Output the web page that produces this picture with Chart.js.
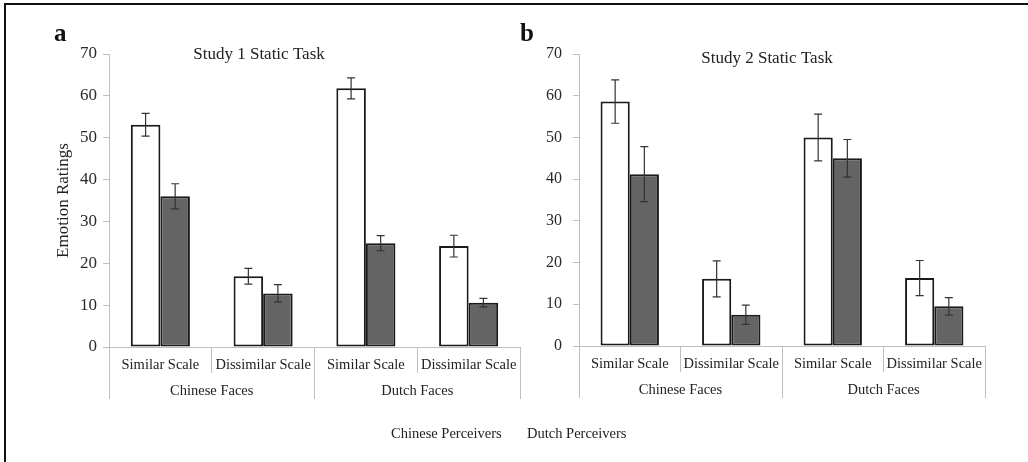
<!DOCTYPE html>
<html>
<head>
<meta charset="utf-8">
<script src="https://cdn.jsdelivr.net/npm/chart.js@4.4.1/dist/chart.umd.min.js"></script>
<style>
  html, body { margin: 0; padding: 0; background: #fff; }
  #page { position: relative; width: 1028px; height: 462px; overflow: hidden; font-family: "Liberation Serif", "Times New Roman", serif; }
  #frame { position: absolute; left: 4px; top: 3px; width: 1030px; height: 470px; border-top: 2px solid #111; border-left: 2px solid #111; }
  #chartA { position: absolute; left: 0; top: 0; }
  #chartB { position: absolute; left: 515px; top: 0; }
  .legend-item { position: absolute; top: 425px; font-size: 14.5px; color: #222; white-space: nowrap; }
</style>
</head>
<body>
<div id="page">
  <div id="frame"></div>
  <canvas id="chartA" width="525" height="462"></canvas>
  <canvas id="chartB" width="513" height="462"></canvas>
  <span class="legend-item" style="left:391px">Chinese Perceivers</span>
  <span class="legend-item" style="left:527px">Dutch Perceivers</span>
</div>
<script>
const subLabels = ["Similar Scale", "Dissimilar Scale", "Similar Scale", "Dissimilar Scale"];
const groupLabels = ["Chinese Faces", "Dutch Faces"];
const seriesNames = ["Chinese Perceivers", "Dutch Perceivers"];
const yTicks = [0, 10, 20, 30, 40, 50, 60, 70];

// Study 1
const study1Chinese = [53.1, 16.9, 61.8, 24.1];
const study1ChineseErr = [2.7, 1.9, 2.5, 2.6];
const study1Dutch = [36.0, 12.8, 24.8, 10.6];
const study1DutchErr = [3.0, 2.1, 1.8, 1.0];

// Study 2
const study2Chinese = [58.6, 16.1, 50.0, 16.3];
const study2ChineseErr = [5.2, 4.3, 5.6, 4.2];
const study2Dutch = [41.2, 7.5, 45.0, 9.5];
const study2DutchErr = [6.6, 2.3, 4.5, 2.1];

const axisGrey = "#bfbfbf";
const textColor = "#222";
const serif = "'Liberation Serif', 'Times New Roman', serif";

const errorBars = {
  id: "errorBars",
  afterDatasetsDraw(chart) {
    const ctx = chart.ctx;
    const y = chart.scales.y;
    ctx.save();
    ctx.strokeStyle = "#333";
    ctx.lineWidth = 1.2;
    chart.data.datasets.forEach((ds, i) => {
      const meta = chart.getDatasetMeta(i);
      meta.data.forEach((bar, j) => {
        const v = ds.data[j];
        const e = ds.errors[j];
        const top = y.getPixelForValue(v + e);
        const bot = y.getPixelForValue(v - e);
        ctx.beginPath();
        ctx.moveTo(bar.x, top);
        ctx.lineTo(bar.x, bot);
        ctx.moveTo(bar.x - 4, top);
        ctx.lineTo(bar.x + 4, top);
        ctx.moveTo(bar.x - 4, bot);
        ctx.lineTo(bar.x + 4, bot);
        ctx.stroke();
      });
    });
    ctx.restore();
  },
};

const panelText = {
  id: "panelText",
  afterDraw(chart) {
    const o = chart.options.plugins.panelText;
    const ctx = chart.ctx;
    ctx.save();
    ctx.fillStyle = "#111";
    ctx.textBaseline = "alphabetic";
    ctx.font = "bold 25px " + serif;
    ctx.textAlign = "left";
    ctx.fillText(o.letter, o.letterX, 41);
    ctx.font = "17px " + serif;
    ctx.textAlign = "center";
    ctx.fillStyle = textColor;
    ctx.fillText(o.title, o.titleX, o.titleY);
    ctx.restore();
  },
};

function makeChart(id, cfg) {
  return new Chart(document.getElementById(id), {
    type: "bar",
    data: {
      labels: subLabels,
      datasets: [
        {
          label: seriesNames[0],
          data: cfg.a,
          errors: cfg.aErr,
          backgroundColor: "#ffffff",
          borderColor: "#1a1a1a",
          borderWidth: 2,
          borderSkipped: false,
          categoryPercentage: 0.575,
          barPercentage: 1,
        },
        {
          label: seriesNames[1],
          data: cfg.b,
          errors: cfg.bErr,
          backgroundColor: "#646464",
          borderColor: "#1a1a1a",
          borderWidth: 2,
          borderSkipped: false,
          categoryPercentage: 0.575,
          barPercentage: 1,
        },
      ],
    },
    plugins: [errorBars, panelText],
    options: {
      responsive: false,
      animation: false,
      layout: { padding: cfg.padding },
      plugins: {
        legend: { display: false },
        title: { display: false },
        tooltip: { enabled: false },
        panelText: cfg.text,
      },
      scales: {
        x: {
          position: "bottom",
          weight: 0,
          grid: { offset: true, drawOnChartArea: false, color: axisGrey, tickLength: 26 },
          border: { color: axisGrey },
          ticks: {
            autoSkip: false,
            maxRotation: 0,
            padding: -17,
            color: textColor,
            font: { family: serif, size: 14.5 },
          },
          afterFit: (s) => { s.height = 26; },
        },
        x2: {
          type: "category",
          labels: groupLabels,
          position: "bottom",
          weight: 1,
          offset: true,
          grid: { offset: true, drawOnChartArea: false, color: axisGrey, tickLength: 26 },
          border: { display: false },
          ticks: {
            autoSkip: false,
            maxRotation: 0,
            padding: -17,
            color: textColor,
            font: { family: serif, size: 14.5 },
          },
          afterFit: (s) => { s.height = 30; },
        },
        y: {
          min: 0,
          max: 70,
          afterBuildTicks: (s) => { s.ticks = yTicks.map((v) => ({ value: v })); },
          grid: { drawOnChartArea: false, color: axisGrey, tickLength: 6 },
          border: { color: axisGrey },
          ticks: {
            padding: cfg.tickPad,
            color: "#2a2a2a",
            font: { family: serif, size: cfg.tickSize },
          },
          title: {
            display: cfg.yTitle !== "",
            text: cfg.yTitle,
            color: textColor,
            padding: 0,
            font: { family: serif, size: 17 },
          },
          afterFit: (s) => { s.width = cfg.yWidth; },
        },
      },
    },
  });
}

makeChart("chartA", {
  a: study1Chinese,
  aErr: study1ChineseErr,
  b: study1Dutch,
  bErr: study1DutchErr,
  padding: { left: 53, top: 54, right: 5, bottom: 59 },
  yWidth: 56,
  tickPad: 6,
  tickSize: 17,
  yTitle: "Emotion Ratings",
  text: { letter: "a", letterX: 54, title: "Study 1 Static Task", titleX: 259, titleY: 59 },
});

makeChart("chartB", {
  a: study2Chinese,
  aErr: study2ChineseErr,
  b: study2Dutch,
  bErr: study2DutchErr,
  padding: { left: 0, top: 54, right: 43, bottom: 60 },
  yWidth: 64,
  tickPad: 11,
  tickSize: 16,
  yTitle: "",
  text: { letter: "b", letterX: 5, title: "Study 2 Static Task", titleX: 252, titleY: 63 },
});
</script>
</body>
</html>
